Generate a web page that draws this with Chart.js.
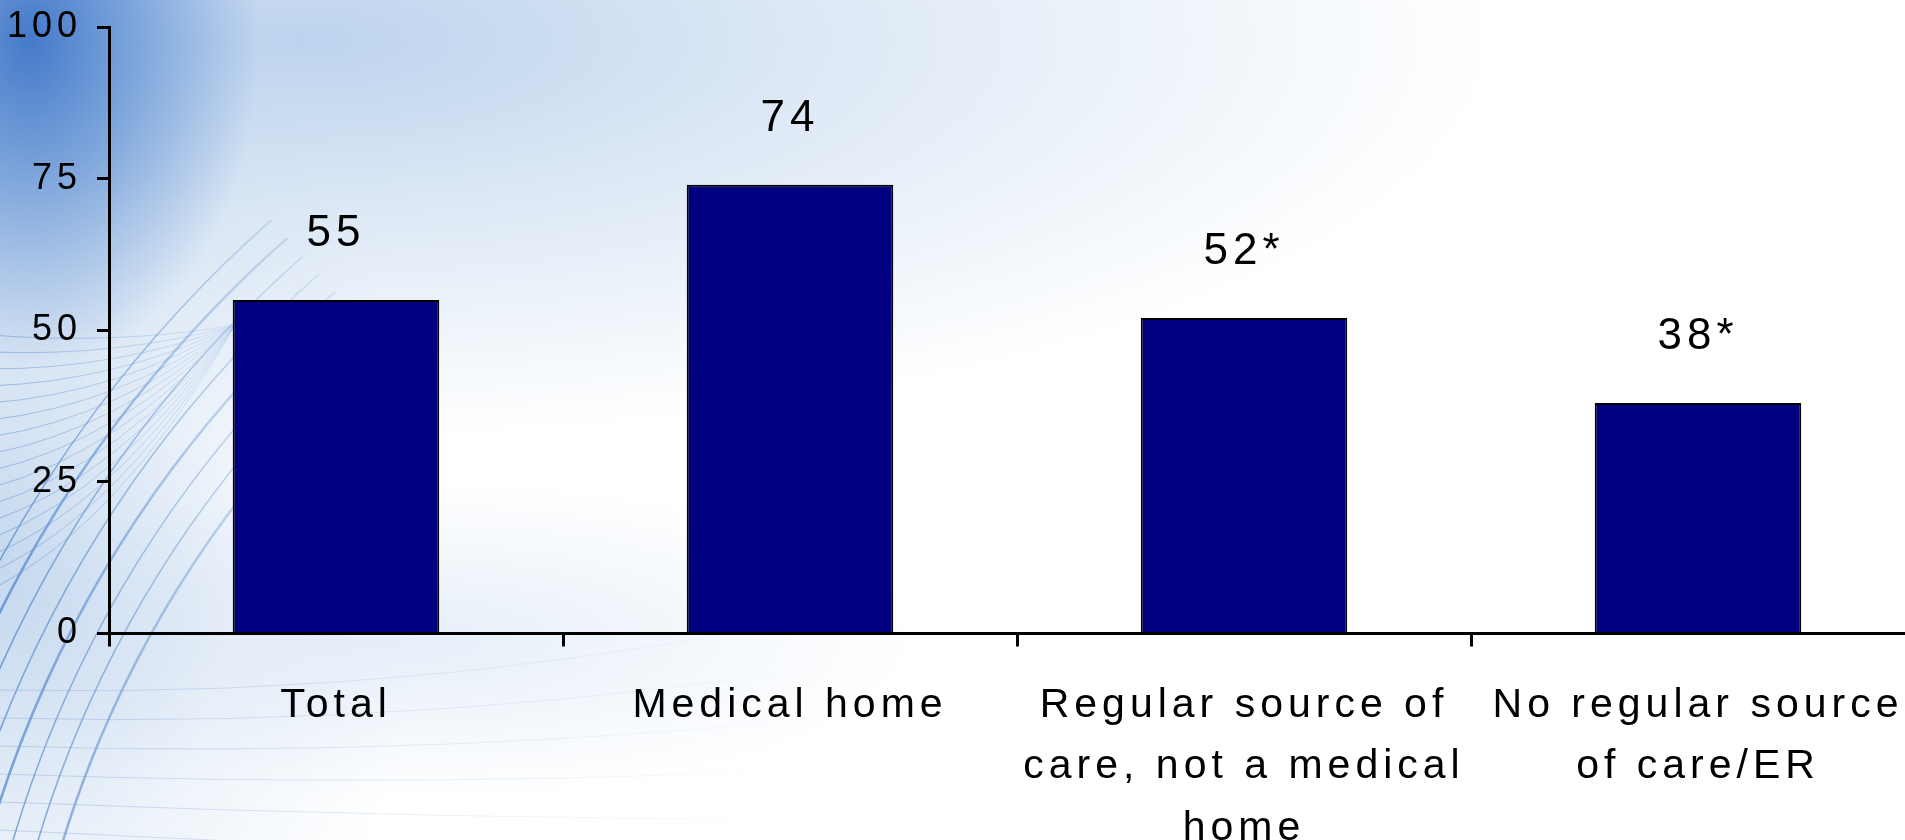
<!DOCTYPE html>
<html>
<head>
<meta charset="utf-8">
<script src="https://cdn.jsdelivr.net/npm/chart.js@4.4.0/dist/chart.umd.min.js"></script>
<style>
    html, body {
        margin: 0;
        padding: 0;
        width: 1905px;
        height: 840px;
        overflow: hidden;
        background-color: #ffffff;
        background-image:
            radial-gradient(ellipse 230px 330px at 30px 40px, rgba(45, 105, 195, 0.85) 0%, rgba(75, 130, 205, 0.55) 50%, rgba(120, 160, 215, 0) 100%),
            radial-gradient(ellipse 1200px 400px at 300px 40px, rgba(160, 192, 230, 0.7) 0%, rgba(190, 212, 237, 0.5) 45%, rgba(255, 255, 255, 0) 100%),
            radial-gradient(ellipse 420px 620px at 0px 560px, rgba(150, 185, 225, 0.55) 0%, rgba(200, 218, 240, 0.3) 55%, rgba(255, 255, 255, 0) 100%),
            radial-gradient(ellipse 500px 160px at 420px 640px, rgba(200, 218, 240, 0.45) 0%, rgba(255, 255, 255, 0) 100%);
    }
    #wrap {
        position: absolute;
        left: 0;
        top: 0;
        width: 1940px;
        height: 895px;
    }
</style>
</head>
<body>
<div id="wrap"><canvas id="barChart"></canvas></div>
<script>
var categories = [
    "Total",
    "Medical home",
    ["Regular source of", "care, not a medical", "home"],
    ["No regular source", "of care/ER"]
];
var percentValues = [55, 74, 52, 38];
var significant = [false, false, true, true];
var yTicks = [0, 25, 50, 75, 100];

var textSpacing = "5px";

// canvas resets its state on resize, so put the spacing back before measuring and drawing
var spacingPlugin = {
    id: 'spacing',
    beforeLayout: function(chart) { chart.ctx.letterSpacing = textSpacing; },
    beforeDraw: function(chart) { chart.ctx.letterSpacing = textSpacing; }
};

// thin swirl lines behind the plot on the left side
var swirlPlugin = {
    id: 'swirl',
    beforeDraw: function(chart) {
        var ctx = chart.ctx;
        ctx.save();

        var fadeArc = ctx.createLinearGradient(0, 0, 420, 0);
        fadeArc.addColorStop(0, "rgba(60, 120, 200, 0.65)");
        fadeArc.addColorStop(0.5, "rgba(80, 135, 205, 0.35)");
        fadeArc.addColorStop(1, "rgba(120, 160, 215, 0)");
        ctx.strokeStyle = fadeArc;
        for (var i = 0; i < 8; i++) {
            ctx.lineWidth = i % 3 === 0 ? 2.5 : 1.5;
            ctx.beginPath();
            ctx.arc(1100, 1160, 1085 + i * 24, Math.PI * 1.0, Math.PI * 1.27);
            ctx.stroke();
        }

        var fadeFan = ctx.createLinearGradient(0, 0, 240, 0);
        fadeFan.addColorStop(0, "rgba(80, 130, 200, 0.45)");
        fadeFan.addColorStop(1, "rgba(110, 155, 215, 0.15)");
        ctx.strokeStyle = fadeFan;
        ctx.lineWidth = 1;
        for (var j = 0; j < 16; j++) {
            ctx.beginPath();
            ctx.moveTo(235, 325);
            ctx.quadraticCurveTo(120, 345 + j * 12, -10, 335 + j * 17);
            ctx.stroke();
        }

        var fadeLow = ctx.createLinearGradient(0, 0, 900, 0);
        fadeLow.addColorStop(0, "rgba(110, 150, 210, 0.35)");
        fadeLow.addColorStop(1, "rgba(160, 185, 225, 0)");
        ctx.strokeStyle = fadeLow;
        for (var k = 0; k < 6; k++) {
            ctx.beginPath();
            ctx.moveTo(0, 690 + k * 28);
            ctx.quadraticCurveTo(450, 700 + k * 30, 900, 600 + k * 55);
            ctx.stroke();
        }
        ctx.restore();
    }
};

// value above each bar, asterisk marks a significant difference
var valueLabelPlugin = {
    id: 'valueLabels',
    afterDatasetsDraw: function(chart) {
        var ctx = chart.ctx;
        var meta = chart.getDatasetMeta(0);
        ctx.save();
        ctx.letterSpacing = textSpacing;
        ctx.font = "44px 'Liberation Sans', Arial, sans-serif";
        ctx.fillStyle = "#000000";
        ctx.textAlign = "center";
        ctx.textBaseline = "middle";
        meta.data.forEach(function(bar, i) {
            var text = percentValues[i] + (significant[i] ? "*" : "");
            ctx.fillText(text, bar.x, bar.y - 66);
        });
        ctx.restore();
    }
};

var ctx = document.querySelector("#barChart").getContext("2d");

var data = {
    labels: categories,
    datasets: [
        {
            data: percentValues,
            backgroundColor: "#000080",
            borderColor: "#000000",
            borderWidth: 2,
            barPercentage: 0.455,
            categoryPercentage: 1.0
        }
    ]
};

var barChart = new Chart(ctx, {
    type: 'bar',
    data: data,
    plugins: [spacingPlugin, swirlPlugin, valueLabelPlugin],
    options: {
        responsive: true,
        maintainAspectRatio: false,
        animation: false,
        layout: {
            padding: { top: 27, right: 15, bottom: 8, left: 0 }
        },
        plugins: {
            legend: { display: false },
            tooltip: { enabled: false }
        },
        scales: {
            x: {
                grid: {
                    display: true,
                    drawOnChartArea: false,
                    color: "#000000",
                    lineWidth: 3,
                    tickLength: 13
                },
                border: { display: true, color: "#000000", width: 3 },
                ticks: {
                    color: "#000000",
                    padding: 28,
                    maxRotation: 0,
                    autoSkip: false,
                    font: { family: "'Liberation Sans', Arial, sans-serif", size: 41, lineHeight: 1.5 }
                }
            },
            y: {
                min: 0,
                max: 100,
                afterBuildTicks: function(scale) {
                    scale.ticks = yTicks.map(function(v) { return { value: v }; });
                },
                afterFit: function(scale) {
                    // fixed axis width, and let the layout padding alone decide the top
                    scale.width = 109;
                    scale.paddingTop = 0;
                    scale.paddingBottom = 0;
                },
                grid: {
                    display: true,
                    drawOnChartArea: false,
                    color: "#000000",
                    lineWidth: 3,
                    tickLength: 12
                },
                border: { display: true, color: "#000000", width: 3 },
                ticks: {
                    color: "#000000",
                    padding: 15,
                    font: { family: "'Liberation Sans', Arial, sans-serif", size: 36 }
                }
            }
        }
    }
});
</script>
</body>
</html>
